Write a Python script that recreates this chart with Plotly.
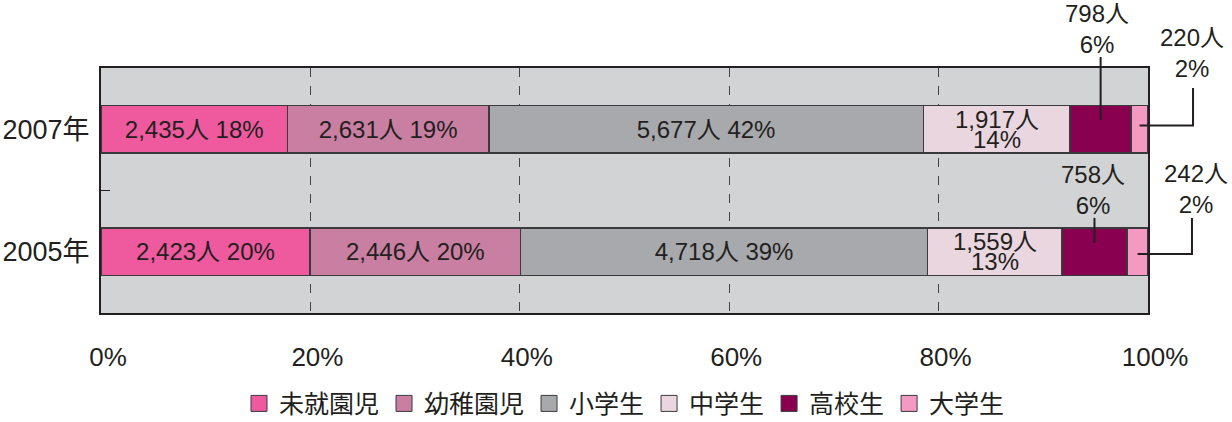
import plotly.graph_objects as go

years = ["2005年", "2007年"]
categories = ["未就園児", "幼稚園児", "小学生", "中学生", "高校生", "大学生"]
counts = {
    "未就園児": [2423, 2435],
    "幼稚園児": [2446, 2631],
    "小学生": [4718, 5677],
    "中学生": [1559, 1917],
    "高校生": [758, 798],
    "大学生": [242, 220],
}
pct_labels = {
    "未就園児": [20, 18],
    "幼稚園児": [20, 19],
    "小学生": [39, 42],
    "中学生": [13, 14],
    "高校生": [6, 6],
    "大学生": [2, 2],
}
colors = {
    "未就園児": "#EE5A9D",
    "幼稚園児": "#C97FA2",
    "小学生": "#A7A9AC",
    "中学生": "#E9D6DF",
    "高校生": "#8A0050",
    "大学生": "#F49AC2",
}
x_ticks = [0, 20, 40, 60, 80, 100]
x_tick_text = ["0%", "20%", "40%", "60%", "80%", "100%"]

FONT = "Liberation Sans, Arial, Noto Sans CJK JP, sans-serif"
CJK = "Noto Sans CJK JP, sans-serif"
TXT = "#231F20"

fig = go.Figure()
inside_cats = ["未就園児", "幼稚園児", "小学生"]
for c in categories:
    texts = []
    for i in range(len(years)):
        if c in inside_cats:
            texts.append(f"{counts[c][i]:,}人 {pct_labels[c][i]}%")
        else:
            texts.append("")
    fig.add_trace(go.Bar(
        y=years, x=counts[c], orientation="h", name=c,
        marker=dict(color=colors[c], line=dict(color="#3A3A3C", width=1.5)),
        text=texts, textposition="inside", insidetextanchor="middle",
        textfont=dict(family=FONT, size=24, color=TXT),
        constraintext="none", showlegend=False, hoverinfo="skip",
    ))
    # legend proxy
    fig.add_trace(go.Scatter(
        x=[None], y=[None], mode="markers", name=c,
        marker=dict(symbol="square", size=16, color=colors[c],
                    line=dict(color="#3A3A3C", width=1)),
        showlegend=True,
    ))

# cumulative shares for annotation positions
totals = [sum(counts[c][i] for c in categories) for i in range(len(years))]
def center_share(cat, i):
    before = 0
    for c in categories:
        if c == cat:
            break
        before += counts[c][i]
    return (before + counts[cat][i] / 2) / totals[i] * 100

annotations = []
# 中学生 two-line labels
for i, yr in enumerate(years):
    xc = center_share("中学生", i)
    annotations.append(dict(x=xc, y=yr, xref="x", yref="y", showarrow=False,
                            text=f"{counts['中学生'][i]:,}人", yshift=10,
                            font=dict(family=FONT, size=24, color=TXT)))
    annotations.append(dict(x=xc, y=yr, xref="x", yref="y", showarrow=False,
                            text=f"{pct_labels['中学生'][i]}%", yshift=-10,
                            font=dict(family=FONT, size=24, color=TXT)))

# 高校生 / 大学生 outside labels with leader lines
shapes = []
# paper layout per year index: (text x offset, text y, line top, line bottom)
hs_layout = {1: (-0.003, 1.161, 1.045, 0.788), 0: (-0.001, 0.502, 0.388, 0.286)}
un_layout = {1: (1.042, 1.061, 0.918, 0.765), 0: (1.046, 0.508, 0.388, 0.241)}
line_x = {1: 1.043, 0: 1.042}
for i in range(len(years)):
    xc = center_share("高校生", i) / 100
    dx, ty, l1, l2 = hs_layout[i]
    annotations.append(dict(x=xc + dx, y=ty, xref="paper", yref="paper", showarrow=False,
                            xanchor="center", yanchor="middle",
                            text=f"{counts['高校生'][i]:,}人<br>{pct_labels['高校生'][i]}%",
                            font=dict(family=FONT, size=24, color=TXT)))
    shapes.append(dict(type="line", xref="paper", yref="paper", x0=xc, x1=xc, y0=l1, y1=l2,
                       line=dict(color=TXT, width=2)))
    xu = center_share("大学生", i) / 100
    tx, ty, l1, l2 = un_layout[i]
    annotations.append(dict(x=tx, y=ty, xref="paper", yref="paper", showarrow=False,
                            xanchor="center", yanchor="middle",
                            text=f"{counts['大学生'][i]:,}人<br>{pct_labels['大学生'][i]}%",
                            font=dict(family=FONT, size=24, color=TXT)))
    lx = line_x[i]
    shapes.append(dict(type="path", xref="paper", yref="paper",
                       path=f"M{lx},{l1} L{lx},{l2} L{xu},{l2}",
                       line=dict(color=TXT, width=2)))

fig.update_layout(
    width=1232, height=422,
    margin=dict(l=101, r=84, t=68, b=109, autoexpand=False),
    barmode="stack", barnorm="percent", bargap=0.61,
    paper_bgcolor="white", plot_bgcolor="#D1D3D4",
    font=dict(family=FONT, color=TXT),
    annotations=annotations, shapes=shapes,
    legend=dict(orientation="h", x=0.5, xanchor="center", y=-0.37, yanchor="middle",
                font=dict(family=CJK, size=25, color=TXT), itemwidth=30,
                traceorder="normal", tracegroupgap=0, bgcolor="rgba(0,0,0,0)"),
)
fig.update_xaxes(
    range=[0, 100], tickmode="array", tickvals=x_ticks, ticktext=x_tick_text,
    showgrid=True, gridcolor="#444444", griddash="dash", gridwidth=1,
    showline=True, mirror=True, linecolor=TXT, linewidth=2, automargin=False,
    ticks="", ticklabelstandoff=20, ticklabelshift=7,
    tickfont=dict(family=FONT, size=26, color=TXT), zeroline=False,
)
fig.update_yaxes(
    categoryorder="array", categoryarray=years, automargin=False,
    showgrid=False, showline=True, mirror=True, linecolor=TXT, linewidth=2,
    tickson="boundaries", ticks="inside", ticklen=9, tickwidth=1, tickcolor=TXT,
    ticklabelstandoff=4,
    tickfont=dict(family=FONT, size=27, color=TXT),
)

fig.write_html(
    "out.html",
    config={"displayModeBar": False},
    post_script="document.body.style.margin='0';document.body.style.overflow='hidden';",
)
